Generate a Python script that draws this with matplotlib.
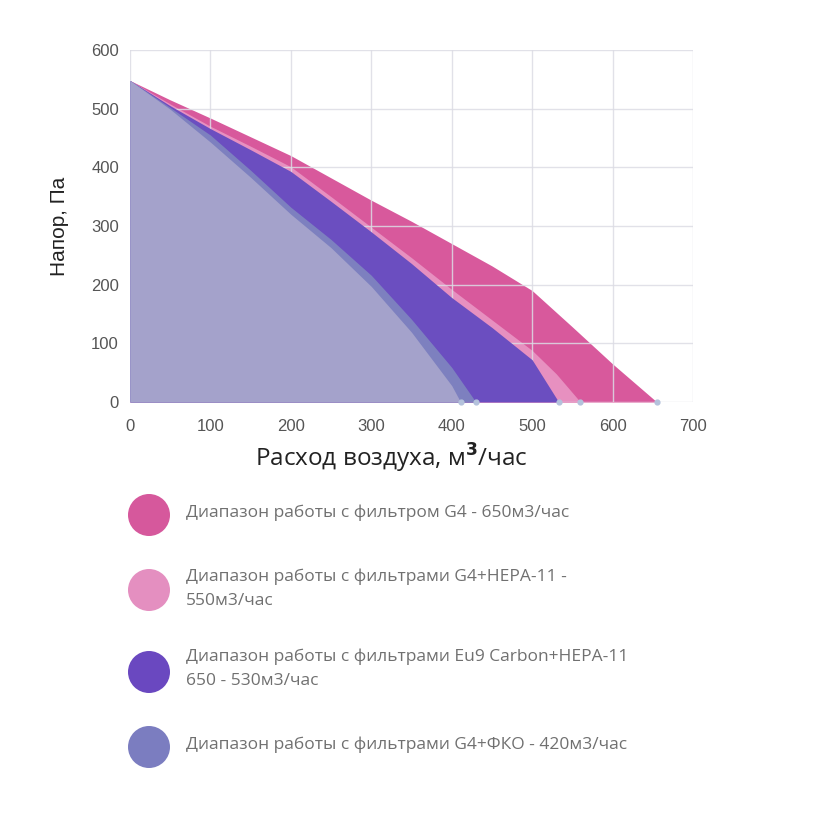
import matplotlib
matplotlib.use('Agg')
import matplotlib.pyplot as plt
from matplotlib.patches import Circle

plt.rcParams['font.family'] = ['Open Sans', 'DejaVu Sans']

# curve data (flow m3/h, pressure Pa)
g4_x = [0, 50, 100, 150, 200, 250, 300, 350, 400, 450, 500, 550, 600, 655]
g4_y = [548, 515, 484, 452, 420, 382, 344, 308, 270, 232, 190, 128, 65, 0]
hepa_x = [0, 50, 100, 150, 200, 250, 300, 350, 400, 450, 500, 530, 560]
hepa_y = [548, 508, 470, 436, 401, 350, 298, 246, 192, 140, 88, 48, 0]
carbon_x = [0, 50, 100, 150, 200, 250, 300, 350, 400, 450, 500, 533]
carbon_y = [548, 505, 466, 430, 393, 342, 290, 236, 178, 127, 72, 0]
fko_x = [0, 50, 100, 150, 200, 250, 300, 350, 400, 430]
fko_y = [548, 502, 455, 395, 332, 277, 216, 141, 59, 0]
base_x = [0, 50, 100, 150, 200, 250, 300, 350, 400, 411]
base_y = [548, 499, 443, 383, 320, 263, 197, 119, 28, 0]

xticks = [0, 100, 200, 300, 400, 500, 600, 700]
yticks = [0, 100, 200, 300, 400, 500, 600]

legend_labels = ['Диапазон работы с фильтром G4 - 650м3/час',
                 'Диапазон работы с фильтрами G4+HEPA-11 -\n550м3/час',
                 'Диапазон работы с фильтрами Eu9 Carbon+HEPA-11\n650 - 530м3/час',
                 'Диапазон работы с фильтрами G4+ФКО - 420м3/час']
legend_colors = ['#d6589c', '#e48fc0', '#6a48c0', '#7b7dc0']

W, H = 839, 817
fig = plt.figure(figsize=(W/100., H/100.), dpi=100)
ax = fig.add_axes([130./W, 1-402./H, 563./W, 352./H])

series = [(g4_x, g4_y, '#d8599c'), (hepa_x, hepa_y, '#e790c0'),
          (carbon_x, carbon_y, '#6b4ec0'), (fko_x, fko_y, '#7d80bf'),
          (base_x, base_y, '#a4a2cb')]
for i, (x, y, c) in enumerate(series):
    ax.fill_between(x, 0, y, color=c, lw=0, zorder=1+i)
ends = [s[0][-1] for s in series]
ax.scatter(ends, [0]*len(ends), s=12, color='#b4c2dc', zorder=8, clip_on=False)

ax.set_xlim(0, 700)
ax.set_ylim(0, 600)
ax.set_xticks(xticks)
ax.set_yticks(yticks)
ax.grid(True, color='#dcdce4', lw=1, alpha=0.85, zorder=10)
ax.set_axisbelow(False)
for s in ax.spines.values():
    s.set_visible(False)
ax.tick_params(length=0, labelsize=12, labelcolor='#555555')
ax.tick_params(axis='x', pad=12)
ax.tick_params(axis='y', pad=8)
for lab in ax.get_xticklabels() + ax.get_yticklabels():
    lab.set_family(['Liberation Sans', 'DejaVu Sans'])
ax.set_xlabel(r'Расход воздуха, м$^{\mathbf{3}}$/час', fontsize=17.5, color='#222222')
ax.xaxis.set_label_coords(0.464, -0.112)
ax.set_ylabel('Напор, Па', fontsize=15, color='#222222', labelpad=16,
              family=['Liberation Sans', 'DejaVu Sans'])

# legend drawn on an overlay in pixel coordinates
lg = fig.add_axes([0, 0, 1, 1])
lg.set_xlim(0, W)
lg.set_ylim(H, 0)
lg.axis('off')
circle_y = [515, 590, 672, 747]
text_y = [513, 589, 669, 745]
for cy, ty, c, lab in zip(circle_y, text_y, legend_colors, legend_labels):
    lg.add_patch(Circle((149, cy), 21, color=c, lw=0))
    lg.text(186, ty, lab, fontsize=12.5, color='#707070',
            va='center', ha='left', linespacing=1.65)

fig.savefig('out.png', dpi=100)
